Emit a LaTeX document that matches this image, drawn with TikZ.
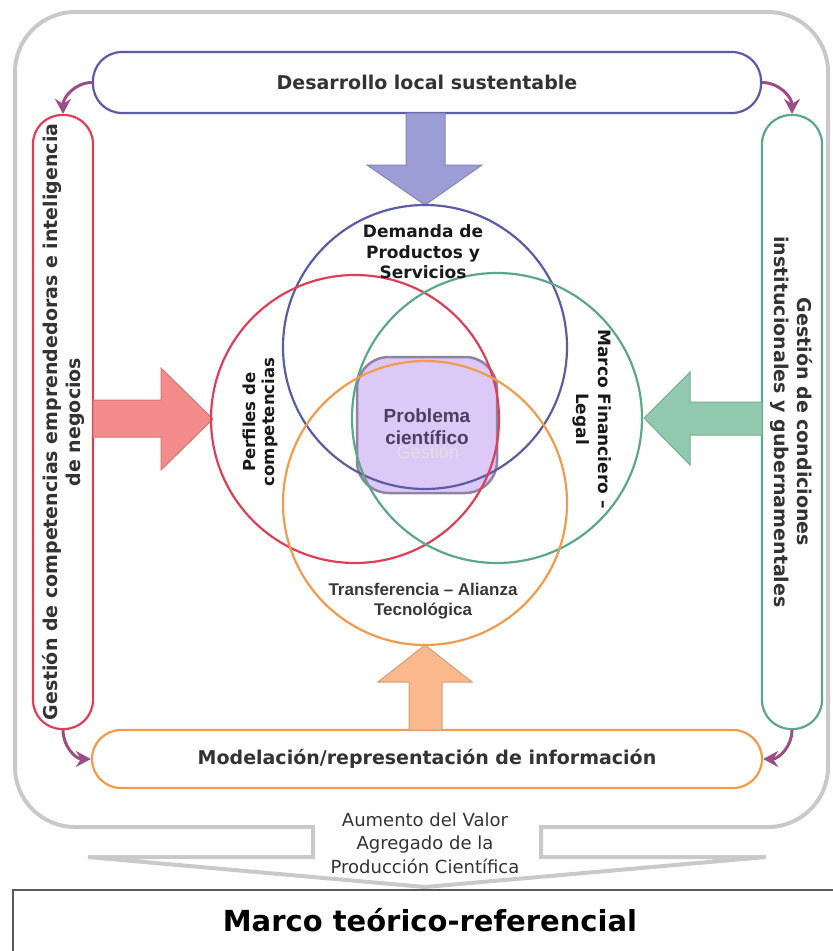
\documentclass[tikz,border=0pt]{standalone}
\usepackage{fontspec}
\setmainfont{DejaVu Sans}
\newfontfamily\arialf{Liberation Sans}
\usetikzlibrary{arrows.meta}
\definecolor{cblue}{HTML}{5B5BA6}
\definecolor{cred}{HTML}{DE3F58}
\definecolor{cgreen}{HTML}{5EA689}
\definecolor{corange}{HTML}{F29B4C}
\definecolor{cgrey}{HTML}{C9C9C9}
\definecolor{cmag}{HTML}{9C4D86}
\definecolor{fblue}{HTML}{9D9DD6}
\definecolor{fred}{HTML}{F48C8C}
\definecolor{fgreen}{HTML}{90C9AE}
\definecolor{forange}{HTML}{F9B98C}
\definecolor{fpurple}{HTML}{DCC9F7}
\definecolor{cprob}{HTML}{4B3F5E}
\definecolor{ctext}{HTML}{333333}
\tikzset{
  pill/.style={draw, line width=2.2pt, rounded corners=29pt, inner sep=0pt, fill=white},
  ring/.style={circle, draw, line width=2.2pt, inner sep=0pt},
  marr/.style={draw=cmag, line width=3pt, -{Stealth[length=15pt,width=16pt]}},
  blockarrow/.style={line width=1pt},
  bigtxt/.style={font=\bfseries\fontsize{19}{23}\selectfont, text=ctext, align=center},
  circtxt/.style={font=\bfseries\fontsize{17}{20.5}\selectfont, text=black!90, align=center},
  ariatxt/.style={font=\arialf\bfseries\fontsize{17}{20}\selectfont, text=black!78, align=center}
}
\begin{document}
\begin{tikzpicture}[x=1pt,y=-1pt]
\useasboundingbox (0,0) rectangle (833,951);
% outer grey frame with down-arrow callout
\draw[cgrey, line width=4pt, rounded corners=60pt] (313,827) -- (15,827) -- (15,12) -- (828,12) -- (828,827) -- (541,827);
\draw[cgrey, line width=4pt, line join=miter] (313,825) -- (313,857) -- (88,857) -- (425,887) -- (766,857) -- (541,857) -- (541,825);
% bottom box
\draw[black!65, line width=1.5pt] (833,890) -- (13,890) -- (13,951);
\node[font=\bfseries\fontsize{29}{34}\selectfont, text=black] (marco) at (430,920) {Marco teórico-referencial};
% frame boxes
\node[pill, draw=cblue, minimum width=668pt, minimum height=61pt] (top) at (427,82.5) {};
\node[pill, draw=corange, minimum width=670pt, minimum height=58pt] (bot) at (427,759) {};
\node[pill, draw=cred, minimum width=60pt, minimum height=614pt] (lbox) at (63,422) {};
\node[pill, draw=cgreen, minimum width=60pt, minimum height=614pt] (rbox) at (792,422) {};
\node[bigtxt] at (top.center) {Desarrollo local sustentable};
\node[bigtxt] at (bot.center) {Modelación/representación de información};
\node[bigtxt, rotate=90] at (lbox.center) {Gestión de competencias emprendedoras e inteligencia\\de negocios};
\node[bigtxt, rotate=-90] at (rbox.center) {Gestión de condiciones\\institucionales y gubernamentales};
% curved arrows
\draw[marr] (top.west) to[out=180,in=90] (lbox.north);
\draw[marr] (top.east) to[out=0,in=90] (rbox.north);
\draw[marr] (lbox.south) to[out=-90,in=180] (bot.west);
\draw[marr] (rbox.south) to[out=-90,in=0] (bot.east);
% block arrows
\filldraw[blockarrow, fill=fblue, draw=fblue!85!black] (406,113) -- (445,113) -- (445,165) -- (482,165) -- (425,205) -- (367,165) -- (406,165) -- cycle;
\filldraw[blockarrow, fill=fred, draw=fred!85!black] (93,400) -- (161,400) -- (161,368) -- (213,419) -- (161,470) -- (161,437) -- (93,437) -- cycle;
\filldraw[blockarrow, fill=fgreen, draw=fgreen!85!black] (762,402) -- (690,402) -- (690,372) -- (644,418) -- (690,465) -- (690,435) -- (762,435) -- cycle;
\filldraw[blockarrow, fill=forange, draw=forange!85!black] (409,730) -- (409,682) -- (378,682) -- (425,645) -- (472,682) -- (442,682) -- (442,730) -- cycle;
% centre
\node[draw=black!35!fpurple, fill=fpurple, line width=2.5pt, rounded corners=32pt, minimum width=140pt, minimum height=136pt] (prob) at (427,425) {};
\node[font=\arialf\fontsize{18}{22}\selectfont, text=black!12] at (428,452) {Gestión};
% circles
\node[ring, draw=cblue, minimum size=284pt] (cb) at (425,347) {};
\node[ring, draw=cred, minimum size=288pt] (cr) at (355,419) {};
\node[ring, draw=cgreen, minimum size=290pt] (cg) at (497,418) {};
\node[ring, draw=corange, minimum size=284pt] (co) at (425,503) {};
% circle texts
\node[font=\arialf\bfseries\fontsize{19}{22}\selectfont, text=cprob, align=center] at (prob.center) [yshift=-2pt] {Problema\\científico};
\node[circtxt] at (423,252) {Demanda de\\Productos y\\Servicios};
\node[circtxt, rotate=90, font=\bfseries\fontsize{16.5}{19}\selectfont] at (260,422) {Perfiles de\\competencias};
\node[circtxt, rotate=-90, font=\bfseries\fontsize{17}{22}\selectfont] at (592,419) {Marco Financiero –\\Legal};
\node[ariatxt] at (423,601) {Transferencia – Alianza\\Tecnológica};
% bottom label
\node[font=\fontsize{18}{23.5}\selectfont, text=ctext, align=center] at (425,843) {Aumento del Valor\\Agregado de la\\Producción Científica};
\end{tikzpicture}
\end{document}
